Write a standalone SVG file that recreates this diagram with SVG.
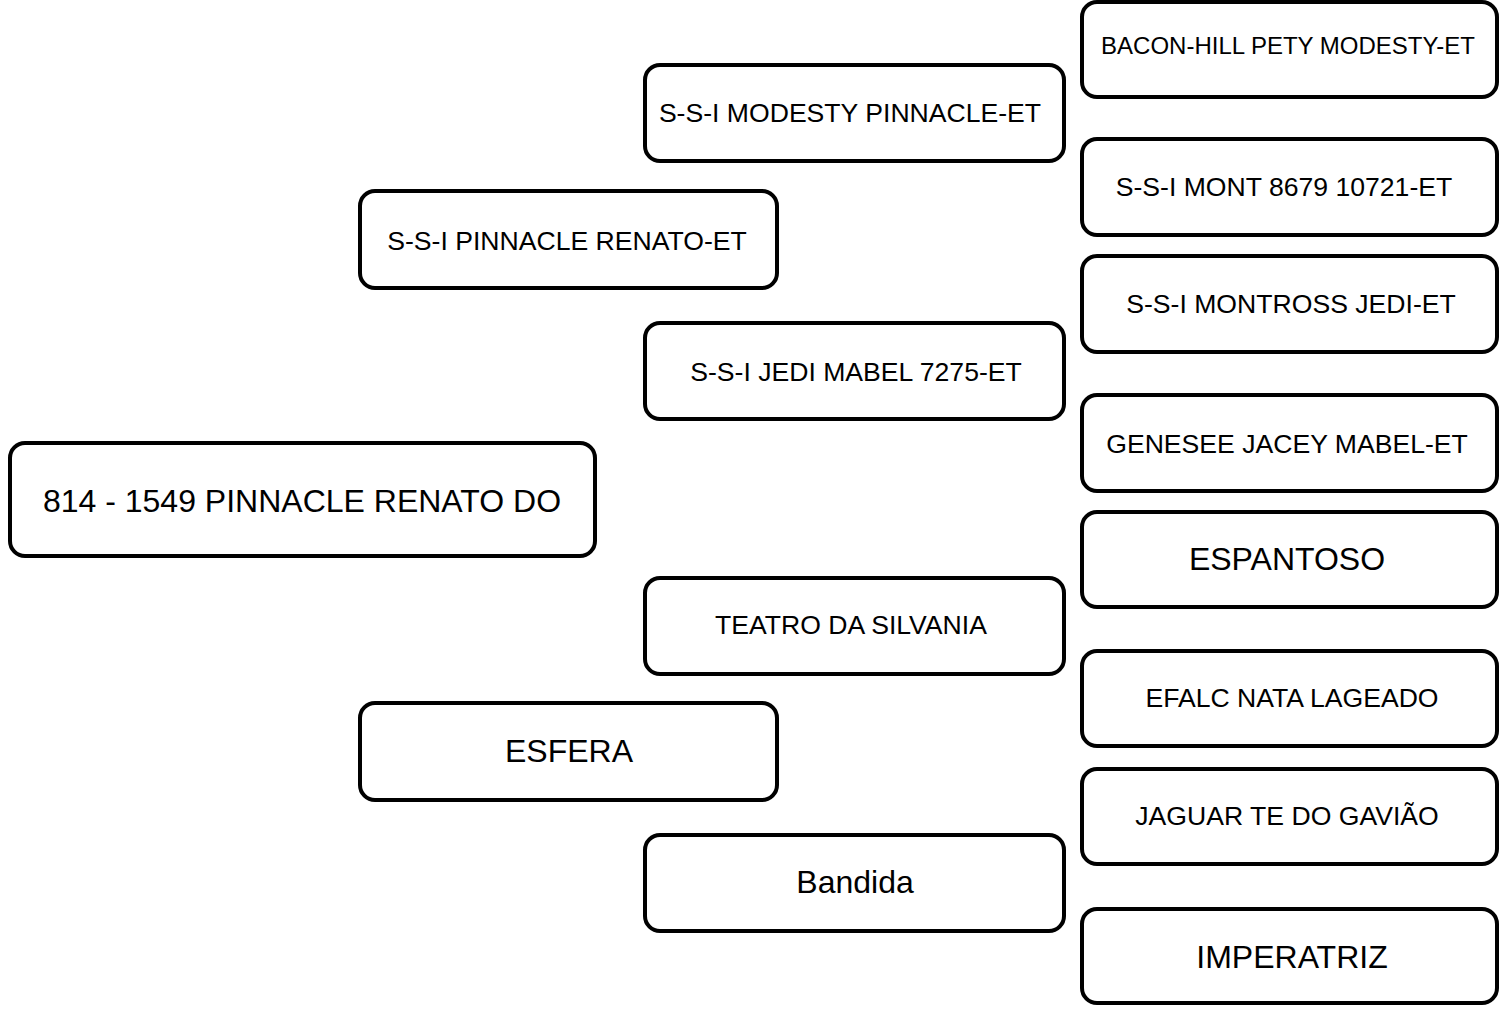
<svg xmlns="http://www.w3.org/2000/svg" width="1501" height="1011" viewBox="0 0 1501 1011">
<style>
.box{fill:#fff;stroke:#000;stroke-width:4;}
.t{font-family:"Liberation Sans",Arial,sans-serif;fill:#000;text-anchor:middle;font-size:26.6px;}
.l{font-size:32px;}
</style>
<rect width="1501" height="1011" fill="#fff"/>
<g id="connectors"></g>
<g id="n-root"><rect class="box" x="10" y="443" width="585" height="113" rx="15"/><text class="t l" x="302" y="512">814 - 1549 PINNACLE RENATO DO</text></g>
<g id="n-s"><rect class="box" x="360" y="191" width="417" height="97" rx="15"/><text class="t" x="567" y="249.5">S-S-I PINNACLE RENATO-ET</text></g>
<g id="n-d"><rect class="box" x="360" y="703" width="417" height="97" rx="15"/><text class="t l" x="569" y="762">ESFERA</text></g>
<g id="n-ss"><rect class="box" x="645" y="65" width="419" height="96" rx="15"/><text class="t" x="850" y="121.5">S-S-I MODESTY PINNACLE-ET</text></g>
<g id="n-sd"><rect class="box" x="645" y="323" width="419" height="96" rx="15"/><text class="t" x="856" y="380.5">S-S-I JEDI MABEL 7275-ET</text></g>
<g id="n-ds"><rect class="box" x="645" y="578" width="419" height="96" rx="15"/><text class="t" x="851" y="633.5">TEATRO DA SILVANIA</text></g>
<g id="n-dd"><rect class="box" x="645" y="835" width="419" height="96" rx="15"/><text class="t l" x="855" y="893">Bandida</text></g>
<g id="n-sss"><rect class="box" x="1082" y="2" width="415" height="95" rx="15"/><text class="t" style="font-size:24px" x="1288" y="53.5">BACON-HILL PETY MODESTY-ET</text></g>
<g id="n-ssd"><rect class="box" x="1082" y="139" width="415" height="96" rx="15"/><text class="t" x="1284" y="195.5">S-S-I MONT 8679 10721-ET</text></g>
<g id="n-sds"><rect class="box" x="1082" y="256" width="415" height="96" rx="15"/><text class="t" x="1291" y="312.5">S-S-I MONTROSS JEDI-ET</text></g>
<g id="n-sdd"><rect class="box" x="1082" y="395" width="415" height="96" rx="15"/><text class="t" x="1287" y="452.5">GENESEE JACEY MABEL-ET</text></g>
<g id="n-dss"><rect class="box" x="1082" y="512" width="415" height="95" rx="15"/><text class="t l" x="1287" y="570">ESPANTOSO</text></g>
<g id="n-dsd"><rect class="box" x="1082" y="651" width="415" height="95" rx="15"/><text class="t" x="1292" y="706.5">EFALC NATA LAGEADO</text></g>
<g id="n-dds"><rect class="box" x="1082" y="769" width="415" height="95" rx="15"/><text class="t" x="1287" y="824.5">JAGUAR TE DO GAVIÃO</text></g>
<g id="n-ddd"><rect class="box" x="1082" y="909" width="415" height="94" rx="15"/><text class="t l" x="1292" y="968">IMPERATRIZ</text></g>
</svg>
